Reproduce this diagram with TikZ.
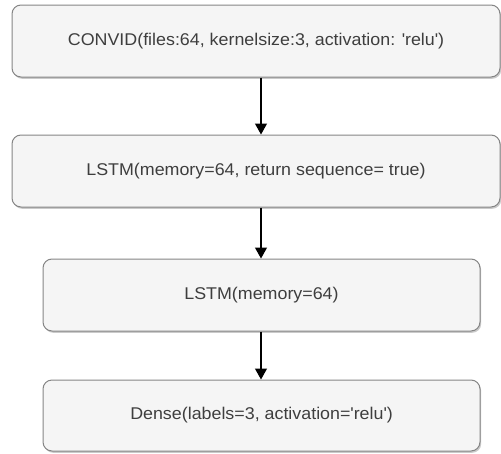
\documentclass[tikz,border=0pt]{standalone}
\usepackage{fontspec}
\setmainfont[FakeStretch=1.05]{Liberation Sans}
\usetikzlibrary{arrows.meta,shadows}
\definecolor{boxfill}{HTML}{F5F5F5}
\definecolor{boxline}{HTML}{858585}
\definecolor{txt}{HTML}{3E3E3E}
\newcommand{\q}{\textquotesingle}
\tikzset{
  layer/.style={draw=boxline, fill=boxfill, line width=1pt, rounded corners=9pt,
    drop shadow={shadow xshift=1.2pt, shadow yshift=-1.8pt, opacity=0.35, fill=black!60},
    text=txt, font=\fontsize{17}{19}\selectfont, inner sep=0pt},
  flow/.style={line width=1.2pt, -{Triangle[width=12pt,length=11pt]}}
}
\begin{document}
\begin{tikzpicture}[x=1pt,y=-1pt]
\useasboundingbox (0,0) rectangle (501,453);
\node[layer, minimum width=488pt, minimum height=72pt] (conv) at (256,41) {CONVID(files:64, kernelsize:3, activation: \q relu\q)};
\node[layer, minimum width=488pt, minimum height=72pt] (lstm1) at (256,171) {LSTM(memory=64, return sequence= true)};
\node[layer, minimum width=437pt, minimum height=72pt] (lstm2) at (261.5,295) {LSTM(memory=64)};
\node[layer, minimum width=437pt, minimum height=71pt] (dense) at (261.5,415.5) {Dense(labels=3, activation=\q relu\q)};
\draw[flow] (conv.south -| 261,0) -- (lstm1.north -| 261,0);
\draw[flow] (lstm1.south -| 261,0) -- (lstm2.north -| 261,0);
\draw[flow] (lstm2.south -| 261,0) -- (dense.north -| 261,0);
\end{tikzpicture}
\end{document}
